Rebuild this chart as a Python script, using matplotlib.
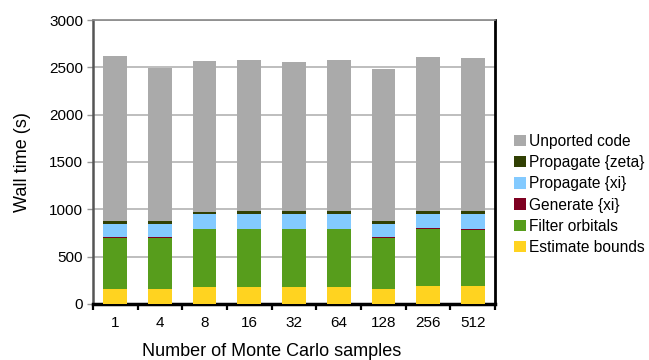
import numpy as np
import matplotlib
matplotlib.use('Agg')
from matplotlib import pyplot as plt

plt.rcParams['font.family'] = ['Liberation Sans', 'DejaVu Sans']

samples = ['1', '4', '8', '16', '32', '64', '128', '256', '512']
estimate_bounds = [160, 160, 180, 180, 180, 180, 160, 190, 190]
filter_orbitals = [540, 540, 612, 612, 612, 612, 540, 605, 595]
generate_xi = [3, 3, 3, 3, 3, 3, 3, 8, 10]
propagate_xi = [145, 145, 155, 155, 155, 155, 145, 150, 150]
propagate_zeta = [24, 24, 24, 32, 32, 32, 24, 32, 32]
unported_code = [1750, 1624, 1592, 1595, 1574, 1595, 1610, 1627, 1621]

series = [
    ('Estimate bounds', estimate_bounds, '#ffd320'),
    ('Filter orbitals', filter_orbitals, '#579d1c'),
    ('Generate {xi}', generate_xi, '#7e0021'),
    ('Propagate {xi}', propagate_xi, '#83caff'),
    ('Propagate {zeta}', propagate_zeta, '#314004'),
    ('Unported code', unported_code, '#aaaaaa'),
]

fig = plt.figure(figsize=(6.49, 3.6), dpi=100)
ax = fig.add_axes([0.143, 0.156, 0.620, 0.788])

x = np.arange(len(samples))
bottom = np.zeros(len(samples))
handles = []
for name, vals, col in series:
    b = ax.bar(x, vals, width=0.53, bottom=bottom, color=col, label=name, zorder=3)
    handles.append(b)
    bottom += np.array(vals)

ax.set_xlim(-0.5, len(samples) - 0.5)
ax.set_ylim(0, 3000)
ax.set_yticks(np.arange(0, 3001, 500))
ax.yaxis.grid(True, color='#b3b3b3', linewidth=1.2, zorder=0)

# labels sit at the bar centres, tick marks at the category boundaries
ax.set_xticks(np.arange(-0.5, len(samples), 1.0))
ax.set_xticklabels([])
ax.set_xticks(x, minor=True)
ax.set_xticklabels(samples, minor=True)
ax.tick_params(axis='x', which='major', length=4, width=1.6, color='black', direction='out')
ax.tick_params(axis='x', which='minor', length=0, pad=9, labelsize=11)
ax.tick_params(axis='y', length=4, width=1, color='#999999', labelsize=11, pad=3)

ax.spines['bottom'].set_linewidth(2.5)
ax.spines['bottom'].set_color('black')
ax.spines['right'].set_linewidth(2)
ax.spines['right'].set_color('black')
ax.spines['left'].set_linewidth(1.8)
ax.spines['left'].set_color('#555555')
ax.spines['top'].set_linewidth(1.2)
ax.spines['top'].set_color('#888888')

ax.set_ylabel('Wall time (s)', fontsize=13, labelpad=13)
ax.set_xlabel('Number of Monte Carlo samples', fontsize=13)
ax.xaxis.set_label_coords(0.444, -0.137)

fig.legend(handles[::-1], [s[0] for s in series[::-1]],
           loc='upper left', bbox_to_anchor=(0.792, 0.628),
           frameon=False, fontsize=11.2, handlelength=0.75, handleheight=0.75,
           handletextpad=0.2, labelspacing=0.40, borderpad=0, borderaxespad=0)

fig.savefig('out.png', dpi=100)
